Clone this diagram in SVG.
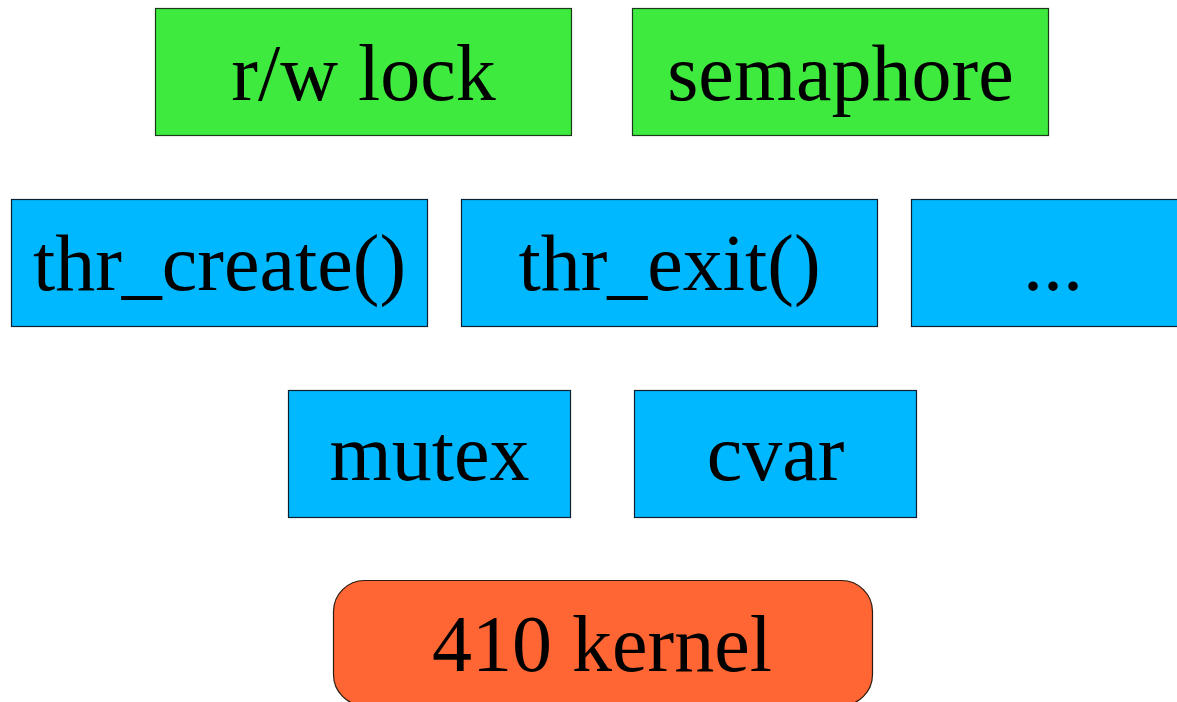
<svg xmlns="http://www.w3.org/2000/svg" width="1177" height="702" viewBox="0 0 1177 702">
<style>
.g{fill:#3eea3e;stroke:#1a3a1a;stroke-width:1.2}
.b{fill:#00b8ff;stroke:#0a2030;stroke-width:1.2}
.o{fill:#ff6633;stroke:#2a1a10;stroke-width:1.2}
text{font-family:"Liberation Serif","Times New Roman",serif;font-size:80px;fill:#000;text-anchor:middle}
</style>
<rect width="1177" height="702" fill="#fff"/>
<g id="rwlock"><rect class="g" x="155.5" y="8.5" width="416" height="127"/><text x="363.5" y="100">r/w lock</text></g>
<g id="semaphore"><rect class="g" x="632.5" y="8.5" width="416" height="127"/><text x="840.5" y="100">semaphore</text></g>
<g id="thr_create"><rect class="b" x="11.5" y="199.5" width="416" height="127"/><text x="219.5" y="290">thr_create()</text></g>
<g id="thr_exit"><rect class="b" x="461.5" y="199.5" width="416" height="127"/><text x="669.5" y="290">thr_exit()</text></g>
<g id="more"><rect class="b" x="911.5" y="199.5" width="416" height="127"/><text x="1053" y="290">...</text></g>
<g id="mutex"><rect class="b" x="288.5" y="390.5" width="282" height="127"/><text x="429.5" y="480">mutex</text></g>
<g id="cvar"><rect class="b" x="634.5" y="390.5" width="282" height="127"/><text x="775.5" y="480">cvar</text></g>
<g id="kernel"><rect class="o" x="333.5" y="580.5" width="539" height="125" rx="31" ry="31"/><text x="602" y="671">410 kernel</text></g>
<g id="connectors"></g>
</svg>
